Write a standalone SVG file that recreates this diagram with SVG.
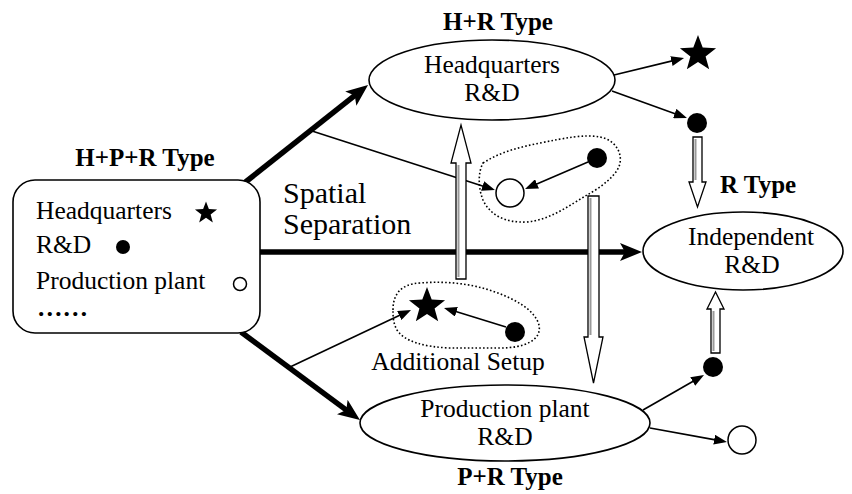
<svg xmlns="http://www.w3.org/2000/svg" width="852" height="494" viewBox="0 0 852 494">
  <style>
    .lbl { font-family: "Liberation Serif", "Times New Roman", serif; font-size: 25.5px; fill: #000; }
    .ttl { font-family: "Liberation Serif", "Times New Roman", serif; font-size: 25px; font-weight: bold; fill: #000; }
    .big { font-family: "Liberation Serif", "Times New Roman", serif; font-size: 30px; fill: #000; }
    .node { fill: #fff; stroke: #000; stroke-width: 1.6; }
    .thick { fill: none; stroke: #000; stroke-width: 5.5; }
    .thin { fill: none; stroke: #000; stroke-width: 1.6; }
    .blob { fill: none; stroke: #000; stroke-width: 1.6; stroke-dasharray: 1.6 2.2; }
    .hollow { fill: #fff; stroke: #000; stroke-width: 1.3; stroke-linejoin: miter; }
    .shade { stroke: #999; stroke-width: 2; fill: none; }
    .dot { fill: #000; }
    .ring { fill: #fff; stroke: #000; stroke-width: 1.5; }
  </style>
  <defs>
    <marker id="headThick" markerUnits="userSpaceOnUse" markerWidth="22" markerHeight="18" refX="6" refY="9" orient="auto">
      <path d="M0,0 L22,9 L0,18 L5,9 Z" fill="#000"/>
    </marker>
    <marker id="headThin" markerUnits="userSpaceOnUse" markerWidth="13" markerHeight="10" refX="4" refY="5" orient="auto">
      <path d="M0,0 L13,5 L0,10 Z" fill="#000"/>
    </marker>
    <path id="star" d="M0,-1 L0.247,-0.34 L0.951,-0.309 L0.399,0.13 L0.588,0.809 L0,0.42 L-0.588,0.809 L-0.399,0.13 L-0.951,-0.309 L-0.247,-0.34 Z"/>
  </defs>

  <!-- connectors -->
  <g id="connectors">
    <!-- spatial separation: thick arrows out of the H+P+R box -->
    <line class="thick" x1="243" y1="184" x2="355.5" y2="94.9" marker-end="url(#headThick)"/>
    <line class="thick" x1="258" y1="252" x2="626" y2="252" marker-end="url(#headThick)"/>
    <line class="thick" x1="241" y1="332" x2="347.1" y2="410.6" marker-end="url(#headThick)"/>

    <!-- thin arrows -->
    <line class="thin" x1="614" y1="75" x2="675.3" y2="60.1" marker-end="url(#headThin)"/>
    <line class="thin" x1="612" y1="91" x2="678.5" y2="114.9" marker-end="url(#headThin)"/>
    <line class="thin" x1="312" y1="131" x2="486.4" y2="187.2" marker-end="url(#headThin)"/>
    <line class="thin" x1="588" y1="162" x2="533.3" y2="185.5" marker-end="url(#headThin)"/>
    <line class="thin" x1="290" y1="367" x2="402.9" y2="313.8" marker-end="url(#headThin)"/>
    <line class="thin" x1="506" y1="327" x2="452.6" y2="310.6" marker-end="url(#headThin)"/>
    <line class="thin" x1="643" y1="410" x2="696.2" y2="379.5" marker-end="url(#headThin)"/>
    <line class="thin" x1="650" y1="428" x2="718.1" y2="440.4" marker-end="url(#headThin)"/>

    <!-- hollow transition arrows -->
    <polygon class="hollow" points="456,279 466,279 466,163 471,163 461,125 451,163 456,163"/>
    <line class="shade" x1="458.5" y1="277" x2="458.5" y2="165"/>
    <polygon class="hollow" points="588,196 599,196 599,337 603,337 593.5,383 584,337 588,337"/>
    <line class="shade" x1="590.5" y1="198" x2="590.5" y2="335"/>
    <polygon class="hollow" points="693,137 702,137 702,182 706,182 697.5,207 689,182 693,182"/>
    <line class="shade" x1="695.5" y1="139" x2="695.5" y2="180"/>
    <polygon class="hollow" points="711,353 720,353 720,309 724,309 715.5,292 707,309 711,309"/>
    <line class="shade" x1="713.5" y1="351" x2="713.5" y2="311"/>

    <!-- dotted groupings -->
    <path class="blob" d="M483,163 C500,152 520,147 540,143 C565,138 585,134 600,137 C615,140 622,152 620,163 C618,175 600,188 587,195 C570,205 550,220 527,222 C505,223 490,215 483,200 C478,188 478,172 483,163 Z"/>
    <path class="blob" d="M393,310 C393,295 400,284 420,283 C445,281 470,283 495,292 C515,299 535,310 539,325 C542,340 525,348 500,348 L450,348 C425,347 405,342 397,330 C393,323 393,316 393,310 Z"/>
  </g>

  <!-- H+P+R type -->
  <g id="hpr">
    <text class="ttl" x="145" y="166" text-anchor="middle">H+P+R Type</text>
    <rect class="node" x="13" y="180" width="247" height="153" rx="22" ry="22" stroke-width="2.4"/>
    <text class="lbl" x="36" y="219">Headquarters</text>
    <use href="#star" transform="translate(206,213) scale(11.6)"/>
    <text class="lbl" x="36" y="253">R&amp;D</text>
    <circle class="dot" cx="123" cy="247" r="7"/>
    <text class="lbl" x="36" y="289">Production plant</text>
    <circle class="ring" cx="240" cy="284" r="6.5"/>
    <text class="lbl" x="37" y="316" font-weight="bold">……</text>
  </g>

  <!-- spatial separation label -->
  <g id="spatial">
    <text class="big" x="283" y="203">Spatial</text>
    <text class="big" x="283" y="234">Separation</text>
  </g>

  <!-- H+R type -->
  <g id="hr">
    <text class="ttl" x="498" y="30" text-anchor="middle">H+R Type</text>
    <ellipse class="node" cx="492" cy="80" rx="123" ry="40"/>
    <text class="lbl" x="492" y="73" text-anchor="middle">Headquarters</text>
    <text class="lbl" x="492" y="101" text-anchor="middle">R&amp;D</text>
  </g>
  <g id="hr-out">
    <use href="#star" transform="translate(698,54) scale(19)"/>
    <circle class="dot" cx="697" cy="123" r="10"/>
  </g>

  <!-- relocated units -->
  <g id="split-top">
    <circle class="ring" cx="510" cy="193" r="14"/>
    <circle class="dot" cx="597" cy="158" r="10"/>
  </g>
  <g id="additional-setup">
    <use href="#star" transform="translate(427,306) scale(19)"/>
    <circle class="dot" cx="515" cy="332" r="10"/>
    <text class="lbl" x="458" y="370" text-anchor="middle">Additional Setup</text>
  </g>

  <!-- R type -->
  <g id="r">
    <text class="ttl" x="720" y="193">R Type</text>
    <ellipse class="node" cx="743" cy="251" rx="100" ry="39"/>
    <text class="lbl" x="751" y="245" text-anchor="middle">Independent</text>
    <text class="lbl" x="752" y="273" text-anchor="middle">R&amp;D</text>
  </g>

  <!-- P+R type -->
  <g id="pr">
    <ellipse class="node" cx="505" cy="423" rx="145" ry="38"/>
    <text class="lbl" x="505" y="417" text-anchor="middle">Production plant</text>
    <text class="lbl" x="505" y="445" text-anchor="middle">R&amp;D</text>
    <text class="ttl" x="510" y="485" text-anchor="middle">P+R Type</text>
  </g>
  <g id="pr-out">
    <circle class="dot" cx="713" cy="367" r="10"/>
    <circle class="ring" cx="742" cy="440" r="14"/>
  </g>
</svg>
